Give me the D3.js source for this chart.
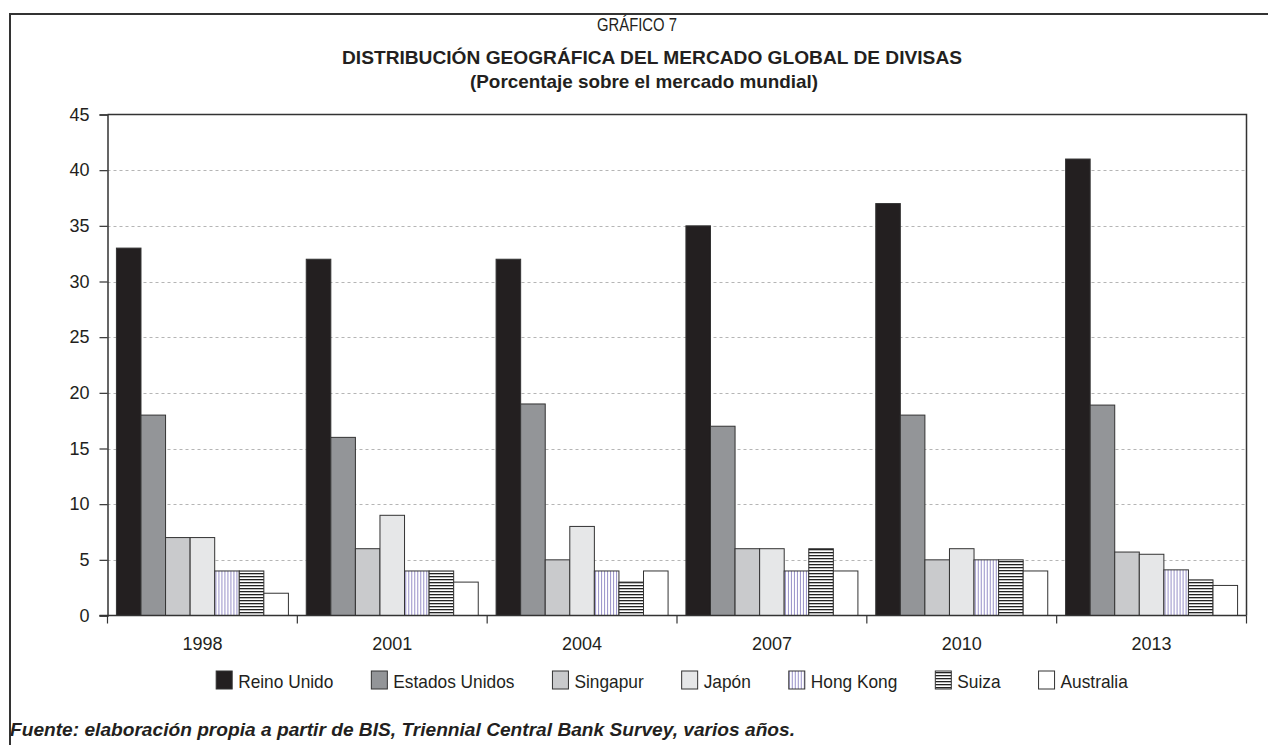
<!DOCTYPE html>
<html>
<head>
<meta charset="utf-8">
<script src="https://cdn.jsdelivr.net/npm/d3@7"></script>
<style>
  html, body { margin: 0; padding: 0; background: #fff; }
  svg { display: block; }
</style>
</head>
<body>
<svg id="chart" width="1268" height="745"></svg>
<script>
// Survey years and trading centres
const years = ["1998", "2001", "2004", "2007", "2010", "2013"];
const centres = ["Reino Unido", "Estados Unidos", "Singapur", "Japón", "Hong Kong", "Suiza", "Australia"];

// Share of global FX turnover (%), one array per centre, ordered as `years`
const reinoUnido     = [33, 32, 32, 35, 37, 41];
const estadosUnidos  = [18, 16, 19, 17, 18, 18.9];
const singapur       = [7, 6, 5, 6, 5, 5.7];
const japon          = [7, 9, 8, 6, 6, 5.5];
const hongKong       = [4, 4, 4, 4, 5, 4.1];
const suiza          = [4, 4, 3, 6, 5, 3.2];
const australia      = [2, 3, 4, 4, 4, 2.7];

const yTicks = [0, 5, 10, 15, 20, 25, 30, 35, 40, 45];

const seriesValues = [reinoUnido, estadosUnidos, singapur, japon, hongKong, suiza, australia];
const fills = ["#231f20", "#939598", "#c9cacc", "#e6e7e8", "url(#hk)", "url(#sz)", "#ffffff"];

const svg = d3.select("#chart");
const W = 1268, H = 745;
const m = { left: 107.5, right: 1246.5, top: 114.5, bottom: 615.5 };
const FONT = "'Liberation Sans', Arial, sans-serif";

// Fill patterns for Hong Kong (vertical) and Suiza (horizontal)
const defs = svg.append("defs");
const hk = defs.append("pattern").attr("id", "hk").attr("patternUnits", "userSpaceOnUse")
  .attr("width", 3).attr("height", 3);
hk.append("rect").attr("width", 3).attr("height", 3).attr("fill", "#fff");
hk.append("rect").attr("x", 0).attr("width", 1).attr("height", 3).attr("fill", "#9790c8");
const sz = defs.append("pattern").attr("id", "sz").attr("patternUnits", "userSpaceOnUse")
  .attr("width", 3).attr("height", 3);
sz.append("rect").attr("width", 3).attr("height", 3).attr("fill", "#fff");
sz.append("rect").attr("y", 0).attr("width", 3).attr("height", 1.3).attr("fill", "#222");

// Outer frame (open to the right and bottom)
svg.append("path")
  .attr("d", `M10,${H} L10,14 L${W},14`)
  .attr("fill", "none").attr("stroke", "#333").attr("stroke-width", 2);

// Condensed-looking text: fixed font size, width set via textLength
function label(sel, x, y, txt, size, len, opts = {}) {
  const t = sel.append("text").attr("x", x).attr("y", y)
    .style("font-family", FONT).style("font-size", size + "px")
    .attr("fill", "#231f20").text(txt);
  if (opts.anchor) t.attr("text-anchor", opts.anchor);
  if (opts.bold) t.style("font-weight", "bold");
  if (opts.italic) t.style("font-style", "italic");
  if (len) t.attr("textLength", len).attr("lengthAdjust", "spacingAndGlyphs");
  return t;
}

// Titles
label(svg, 637, 31, "GRÁFICO 7", 18, 80, { anchor: "middle" });
label(svg, 652, 64, "DISTRIBUCIÓN GEOGRÁFICA DEL MERCADO GLOBAL DE DIVISAS", 19, 620, { anchor: "middle", bold: true });
label(svg, 644, 88, "(Porcentaje sobre el mercado mundial)", 19, 348, { anchor: "middle", bold: true });

// Scales
const x0 = d3.scaleBand().domain(years).range([m.left, m.right])
  .paddingInner(0.094).paddingOuter(0.047);
const x1 = d3.scaleBand().domain(centres).range([0, x0.bandwidth()]);
const y = d3.scaleLinear().domain([0, 45]).range([m.bottom, m.top]);

// Dashed gridlines
svg.append("g").selectAll("line").data(yTicks.filter(t => t > 0 && t < 45)).join("line")
  .attr("x1", m.left).attr("x2", m.right)
  .attr("y1", d => Math.round(y(d)) + 0.5).attr("y2", d => Math.round(y(d)) + 0.5)
  .attr("stroke", "#b5b5b5").attr("stroke-width", 1).attr("stroke-dasharray", "3,3");

// Bars
const groups = svg.append("g").selectAll("g").data(years).join("g")
  .attr("transform", d => `translate(${x0(d)},0)`);
groups.selectAll("rect")
  .data((yr, i) => centres.map((c, k) => ({ c, k, v: seriesValues[k][i] })))
  .join("rect")
  .attr("x", d => x1(d.c))
  .attr("y", d => y(d.v))
  .attr("width", x1.bandwidth())
  .attr("height", d => y(0) - y(d.v))
  .attr("fill", d => fills[d.k])
  .attr("stroke", "#333").attr("stroke-width", 1);

// Plot frame: top and right edges
svg.append("path")
  .attr("d", `M${m.left},${m.top} L${m.right},${m.top} L${m.right},${m.bottom}`)
  .attr("fill", "none").attr("stroke", "#333").attr("stroke-width", 1.5);

// Y axis
const yAxis = svg.append("g").attr("transform", `translate(${m.left},0)`)
  .call(d3.axisLeft(y).tickValues(yTicks).tickSize(8).tickPadding(10));
yAxis.select(".domain").attr("stroke", "#333").attr("stroke-width", 1.5);
yAxis.selectAll(".tick line").attr("stroke", "#333").attr("stroke-width", 1.2);
yAxis.selectAll("text")
  .style("font-family", FONT)
  .style("font-size", "18px").attr("fill", "#231f20");

// X axis: ticks at group boundaries, labels centred on groups
const xAxisG = svg.append("g").attr("transform", `translate(0,${m.bottom})`);
xAxisG.append("line").attr("x1", m.left - 8).attr("x2", m.right)
  .attr("stroke", "#333").attr("stroke-width", 1.5);
const step = x0.step();
const bounds = d3.range(years.length + 1).map(i => m.left + i * step);
xAxisG.selectAll("line.tk").data(bounds).join("line").attr("class", "tk")
  .attr("x1", d => d).attr("x2", d => d).attr("y1", 0).attr("y2", 8)
  .attr("stroke", "#333").attr("stroke-width", 1.2);
xAxisG.selectAll("text").data(years).join("text")
  .attr("x", d => x0(d) + x0.bandwidth() / 2).attr("y", 34)
  .attr("text-anchor", "middle")
  .style("font-family", FONT)
  .style("font-size", "18px").attr("fill", "#231f20").text(d => d);

// Legend
const legend = svg.append("g");
const items = legend.selectAll("g").data(centres).join("g");
items.append("rect").attr("width", 16).attr("height", 18).attr("y", 671)
  .attr("fill", (d, k) => fills[k]).attr("stroke", "#333").attr("stroke-width", 1);
items.append("text").attr("x", 22).attr("y", 688)
  .style("font-family", FONT)
  .style("font-size", "19px").attr("fill", "#231f20").text(d => d)
  .each(function () {
    const w = this.getComputedTextLength() * 0.91;
    d3.select(this).attr("textLength", w).attr("lengthAdjust", "spacingAndGlyphs");
  });
const gap = 38;
let widths = [];
items.each(function () { widths.push(22 + +this.querySelector("text").getAttribute("textLength")); });
const total = d3.sum(widths) + gap * (widths.length - 1);
let lx = 672 - total / 2;
items.attr("transform", (d, i) => { const t = `translate(${lx},0)`; lx += widths[i] + gap; return t; });

// Source note
label(svg, 10, 736, "Fuente: elaboración propia a partir de BIS, Triennial Central Bank Survey, varios años.",
  18, 785, { bold: true, italic: true });
</script>
</body>
</html>
